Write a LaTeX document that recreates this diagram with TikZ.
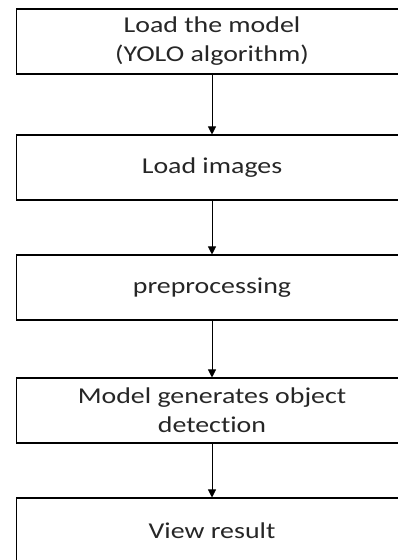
\documentclass[tikz,border=0pt]{standalone}
\usepackage{fontspec}
\setmainfont{Carlito}[Ligatures=NoCommon]
\usetikzlibrary{arrows.meta}
\newcommand{\wideline}[1]{\scalebox{1.23}[1]{#1}}
\begin{document}
\begin{tikzpicture}[x=0.75pt,y=-0.75pt,
  stepbox/.style={draw=black,line width=0.8pt,minimum width=293.25pt,minimum height=48.75pt,
    inner sep=0pt,align=center,text=black!85,font=\fontsize{17}{21.75}\selectfont},
  flow/.style={draw=black,line width=0.6pt,-{Triangle[length=6pt,width=6pt]}}]
\useasboundingbox (0,0) rectangle (398,560);
\clip (0,0) rectangle (398,560);
% boxes of the flow chart
\node[stepbox] (model) at (212,41.5) {\wideline{Load the model}\\\wideline{(YOLO algorithm)}};
\node[stepbox] (images) at (212,167.5) {\wideline{Load images}};
\node[stepbox] (prep) at (212,287.5) {\wideline{preprocessing}};
\node[stepbox] (detect) at (212,410.5) {\wideline{Model generates object}\\\wideline{detection}};
\node[stepbox] (result) at (212,530.5) {\wideline{View result}};
% arrows
\foreach \a/\b in {model/images,images/prep,prep/detect,detect/result} {
  \draw[flow] (\a) -- (\b);
}
\end{tikzpicture}
\end{document}
